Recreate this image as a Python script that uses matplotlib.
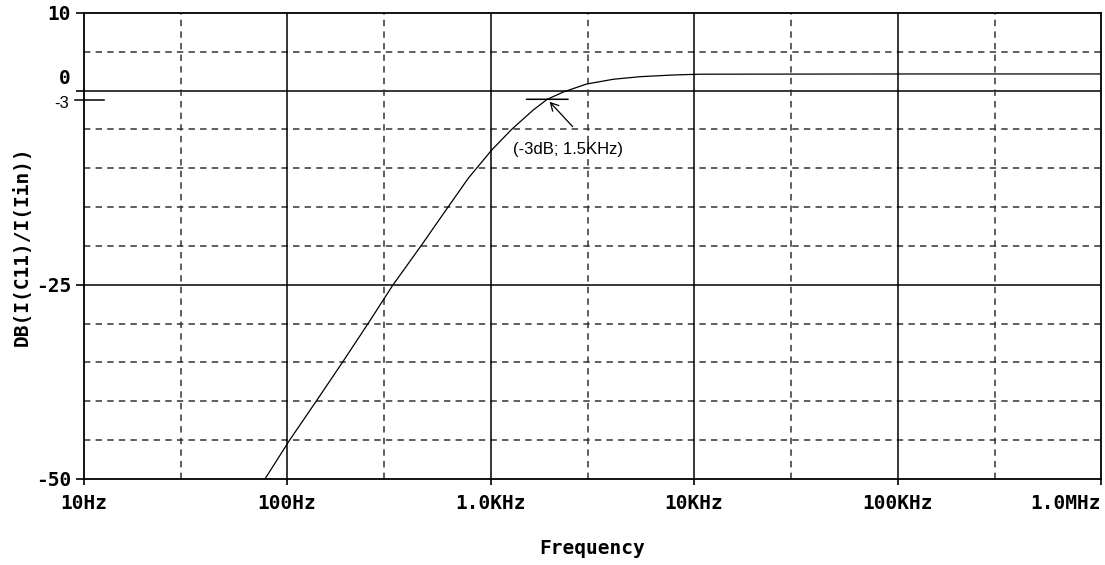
import matplotlib
matplotlib.use("Agg")
import matplotlib.pyplot as plt
import numpy as np

# ---- data ----
freq_hz = [77.9, 103, 139, 187, 250, 332, 455, 618, 708, 778, 1014, 1271,
           1622, 1901, 2280, 2972, 4018, 5433, 7925, 10720, 100000, 1000000]
gain_db = [-50.0, -45.0, -40.0, -35.0, -30.0, -25.0, -20.0, -15.0, -12.8, -11.27,
           -7.64, -4.98, -2.49, -1.11, -0.17, 0.86, 1.47, 1.80, 2.02, 2.12, 2.15, 2.15]

x_ticks = [10, 100, 1000, 10000, 100000, 1000000]
x_tick_labels = ["10Hz", "100Hz", "1.0KHz", "10KHz", "100KHz", "1.0MHz"]
y_ticks = [10, 0, -25, -50]
y_tick_labels = ["10", "", "-25", "-50"]
y_solid = [0, -25]
y_dashed = [5, -5, -10, -15, -20, -30, -35, -40, -45]
x_solid = [100, 1000, 10000, 100000]
x_dashed = [30, 300, 3000, 30000, 300000]

marker_freq = 1901
marker_db = -1.11
left_mark_db = -1.2
annotation_text = "(-3dB; 1.5KHz)"

W, H = 1105, 565
fig = plt.figure(figsize=(W / 100, H / 100), dpi=100)
L, R, T, B = 83.5, 1101, 13, 479
ax = fig.add_axes([L / W, 1 - B / H, (R - L) / W, (B - T) / H])
ax.set_xscale("log")
ax.set_xlim(10, 1e6)
ax.set_ylim(-50, 10)

mono = {"family": "DejaVu Sans Mono", "weight": "bold", "size": 14}
sans = ["Liberation Sans", "DejaVu Sans"]

# grid
for y in y_solid:
    ax.axhline(y, color="black", lw=1.1, zorder=1)
for y in y_dashed:
    ax.axhline(y, color="#333333", lw=1.1, ls=(0, (4.2, 3.4)), zorder=1)
for x in x_solid:
    ax.axvline(x, color="black", lw=1.1, zorder=1)
for x in x_dashed:
    ax.axvline(x, color="#333333", lw=1.1, ls=(0, (4.2, 3.4)), zorder=1)

# curve
ax.plot(freq_hz, gain_db, color="black", lw=0.9, zorder=3)

# spines / ticks
for s in ax.spines.values():
    s.set_color("black")
    s.set_linewidth(1.3)
ax.set_xticks(x_ticks)
ax.set_xticklabels(x_tick_labels, fontdict=mono)
ax.minorticks_off()
ax.tick_params(axis="x", which="major", direction="out", length=4, width=1.2, pad=7)
ax.set_yticks(y_ticks)
ax.set_yticklabels(y_tick_labels, fontdict=mono)
ax.tick_params(axis="y", which="major", direction="out", length=6, width=1.2, pad=3)
xt = ax.get_xticklabels()
xt[-1].set_ha("right")

# "0" label shifted upward
ax.annotate("0", xy=(0, 0), xycoords=("axes fraction", "data"),
            xytext=(-9, 9), textcoords="offset points",
            ha="right", va="center", fontfamily="DejaVu Sans Mono",
            fontweight="bold", fontsize=14)

# "-3" annotation on the left
ax.plot([-8.5 / (R - L), 20.5 / (R - L)], [left_mark_db, left_mark_db],
        transform=ax.get_yaxis_transform(), color="black", lw=1.1, clip_on=False)
ax.annotate("-3", xy=(0, left_mark_db), xycoords=("axes fraction", "data"),
            xytext=(-10.5, -2.5), textcoords="offset points",
            ha="right", va="center", fontsize=12, family=sans)

# marker on the curve
ax.annotate("", xy=(marker_freq, marker_db), xycoords="data",
            xytext=(-15, 0), textcoords="offset points",
            arrowprops=dict(arrowstyle="-", color="black", lw=1.1, shrinkA=0, shrinkB=0))
ax.annotate("", xy=(marker_freq, marker_db), xycoords="data",
            xytext=(15, 0), textcoords="offset points",
            arrowprops=dict(arrowstyle="-", color="black", lw=1.1, shrinkA=0, shrinkB=0))
ax.annotate("", xy=(marker_freq, marker_db), xycoords="data",
            xytext=(18.3, -19.7), textcoords="offset points",
            arrowprops=dict(arrowstyle="->,head_length=0.55,head_width=0.3",
                            color="black", lw=0.9, shrinkA=0, shrinkB=2.5))
ax.annotate(annotation_text, xy=(marker_freq, marker_db), xycoords="data",
            xytext=(-24.5, -36), textcoords="offset points",
            ha="left", va="center", fontsize=12, family=sans)

ax.set_xlabel("Frequency", fontdict=mono)
ax.set_ylabel("DB(I(C11)/I(Iin))", fontdict=mono)
ax.xaxis.set_label_coords(0.5, (479 - 539) / 466)
ax.yaxis.set_label_coords((22 - 83.5) / 1017.5, 0.5)
ax.yaxis.label.set_va("center")

fig.savefig("out.png", dpi=100, facecolor="white")
